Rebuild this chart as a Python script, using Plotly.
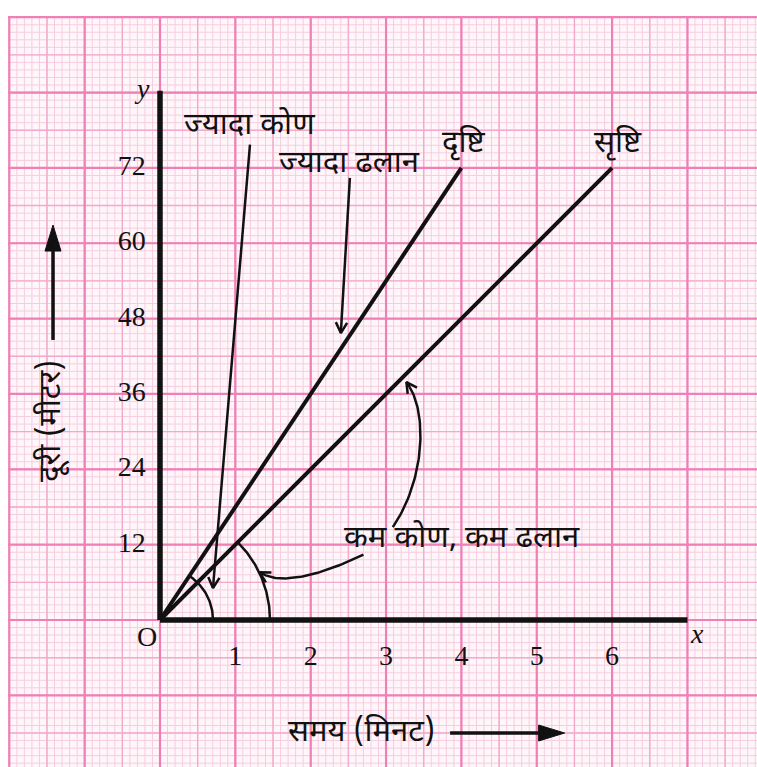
import numpy as np
import plotly.graph_objects as go

# Distance-time data for the two walkers (time in minutes, distance in metres)
drishti_t = [0, 4]
drishti_d = [0, 72]
srishti_t = [0, 6]
srishti_d = [0, 72]
x_ticks = [1, 2, 3, 4, 5, 6]
y_ticks = [12, 24, 36, 48, 60, 72]

W, H = 757, 767
ML, MT = 8, 16
X0, X1 = -2.0173, 7.923
Y0, Y1 = -23.41, 96.19
SX = (W - ML) / (X1 - X0)   # pixels per minute
SY = (H - MT) / (Y1 - Y0)   # pixels per metre

INK = "#111111"
SERIF = "Liberation Serif, Times New Roman, serif"
DEVA = "Noto Sans Devanagari, Lohit Devanagari, Mangal, Noto Sans, sans-serif"
DEVA_SIZE = 31

fig = go.Figure()


def line(xs, ys, width=3, color=INK):
    fig.add_trace(go.Scatter(x=list(xs), y=list(ys), mode="lines",
                             line=dict(color=color, width=width),
                             hoverinfo="skip", showlegend=False))


def v_head(tip, frm, size=12, spread=28, width=2.5):
    """Open V arrow head at `tip`, pointing away from `frm` (data coords)."""
    dx = (tip[0] - frm[0]) * SX
    dy = (tip[1] - frm[1]) * SY
    ang = np.arctan2(dy, dx)
    xs, ys = [], []
    for s in (-1, 1):
        a = ang + np.pi - s * np.radians(spread)
        xs.append(tip[0] + size * np.cos(a) / SX)
        ys.append(tip[1] + size * np.sin(a) / SY)
    line([xs[0], tip[0], xs[1]], [ys[0], tip[1], ys[1]], width=width)


def bezier(pts, n=60):
    pts = np.array(pts, dtype=float)
    t = np.linspace(0, 1, n)[:, None]
    if len(pts) == 3:
        c = (1 - t) ** 2 * pts[0] + 2 * (1 - t) * t * pts[1] + t ** 2 * pts[2]
    else:
        c = ((1 - t) ** 3 * pts[0] + 3 * (1 - t) ** 2 * t * pts[1]
             + 3 * (1 - t) * t ** 2 * pts[2] + t ** 3 * pts[3])
    return c[:, 0], c[:, 1]


def arc(r_px, a0, a1, n=60):
    th = np.linspace(a0, a1, n)
    return r_px * np.cos(th) / SX, r_px * np.sin(th) / SY


# ---- graph paper -------------------------------------------------------
def grid_path(step_x, step_y):
    parts = []
    k0, k1 = int(np.ceil(X0 / step_x)), int(np.floor(X1 / step_x))
    for k in range(k0, k1 + 1):
        x = k * step_x
        parts.append(f"M{x:.4f},{Y0} L{x:.4f},{Y1}")
    k0, k1 = int(np.ceil(Y0 / step_y)), int(np.floor(Y1 / step_y))
    for k in range(k0, k1 + 1):
        y = k * step_y
        parts.append(f"M{X0},{y:.4f} L{X1},{y:.4f}")
    return " ".join(parts)


shapes = [
    dict(type="path", path=grid_path(0.1, 1.2), xref="x", yref="y",
         line=dict(color="#f6cde0", width=1), layer="below"),
    dict(type="path", path=grid_path(0.5, 6), xref="x", yref="y",
         line=dict(color="#f3a9cb", width=1.4), layer="below"),
    dict(type="path", path=grid_path(1, 12), xref="x", yref="y",
         line=dict(color="#f07fb5", width=2.2), layer="below"),
]

# ---- axes ----------------------------------------------------------------
line([0, 7], [0, 0], width=5.5)
line([0, 0], [0, 84.3], width=5.5)

# ---- distance-time lines -----------------------------------------------
line(drishti_t, drishti_d, width=4)
line(srishti_t, srishti_d, width=4)

# ---- angle arcs ----------------------------------------------------------
ang_d = np.arctan2(drishti_d[1] * SY, drishti_t[1] * SX)
ang_s = np.arctan2(srishti_d[1] * SY, srishti_t[1] * SX)
ax_, ay_ = arc(53, 0, ang_d)
line(ax_, ay_, width=2.5)
ax_, ay_ = arc(110, 0, ang_s)
line(ax_, ay_, width=2.5)

# ---- pointer arrows ------------------------------------------------------
# "ज्यादा कोण" -> small arc
p0, p1 = (1.194, 75.7), (0.703, 5.1)
line([p0[0], p1[0]], [p0[1], p1[1]], width=2.5)
v_head(p1, p0)
# "ज्यादा ढलान" -> Drishti line
p0, p1 = (2.52, 70.4), (2.40, 45.7)
line([p0[0], p1[0]], [p0[1], p1[1]], width=2.5)
v_head(p1, p0)
# "कम कोण, कम ढलान" -> large arc
cx, cy = bezier([(2.70, 10.4), (1.70, 4.7), (1.32, 7.6)])
line(cx, cy, width=2.5)
v_head((cx[-1], cy[-1]), (cx[-4], cy[-4]))
# "कम कोण, कम ढलान" -> Srishti line
cx, cy = bezier([(3.09, 14.8), (3.52, 22.3), (3.56, 33.4), (3.27, 37.9)])
line(cx, cy, width=2.5)
v_head((cx[-1], cy[-1]), (cx[-4], cy[-4]))


# ---- axis-title arrows (filled heads) ------------------------------------
def filled_arrow(p0, p1, head_len=26, head_w=16, width=3.5):
    dx = (p1[0] - p0[0]) * SX
    dy = (p1[1] - p0[1]) * SY
    L = np.hypot(dx, dy)
    ux, uy = dx / L, dy / L
    bx = p1[0] - head_len * ux / SX
    by = p1[1] - head_len * uy / SY
    line([p0[0], bx], [p0[1], by], width=width)
    nx, ny = -uy, ux
    xs = [p1[0], bx + head_w / 2 * nx / SX, bx - head_w / 2 * nx / SX, p1[0]]
    ys = [p1[1], by + head_w / 2 * ny / SY, by - head_w / 2 * ny / SY, p1[1]]
    fig.add_trace(go.Scatter(x=xs, y=ys, mode="lines", fill="toself",
                             fillcolor=INK, line=dict(color=INK, width=1),
                             hoverinfo="skip", showlegend=False))


filled_arrow((3.85, -18.0), (5.37, -18.0))
filled_arrow((-1.42, 44.6), (-1.42, 62.9))

# ---- tick labels -----------------------------------------------------------
fig.add_trace(go.Scatter(x=x_ticks, y=[-6.0] * len(x_ticks), mode="text",
                         text=[str(v) for v in x_ticks],
                         textfont=dict(family=SERIF, size=28, color=INK),
                         hoverinfo="skip", showlegend=False))
fig.add_trace(go.Scatter(x=[-0.19] * len(y_ticks), y=y_ticks, mode="text",
                         text=[str(v) for v in y_ticks], textposition="middle left",
                         textfont=dict(family=SERIF, size=28, color=INK),
                         hoverinfo="skip", showlegend=False))

ann = []


def label(x, y, text, size=DEVA_SIZE, family=DEVA, angle=0, italic=False):
    t = f"<i>{text}</i>" if italic else text
    ann.append(dict(x=x, y=y, xref="x", yref="y", text=t, showarrow=False,
                    textangle=angle, xanchor="center", yanchor="middle",
                    font=dict(family=family, size=size, color=INK)))


label(-0.17, -2.7, "O", size=28, family=SERIF)
label(7.13, -2.1, "x", size=28, family=SERIF, italic=True)
label(-0.24, 84.7, "y", size=28, family=SERIF, italic=True)

label(1.194, 78.6, "ज्यादा कोण")
label(2.52, 72.6, "ज्यादा ढलान")
label(4.03, 75.8, "दृष्टि")
label(6.08, 75.8, "सृष्टि")
label(4.01, 12.9, "कम कोण, कम ढलान")
label(2.67, -18.0, "समय (मिनट)")
label(-1.42, 31.7, "दूरी (मीटर)", angle=-90)

fig.update_layout(
    width=W, height=H,
    margin=dict(l=ML, r=0, t=MT, b=0),
    paper_bgcolor="white",
    plot_bgcolor="#fff6fa",
    shapes=shapes,
    annotations=ann,
    showlegend=False,
    xaxis=dict(range=[X0, X1], visible=False, fixedrange=True),
    yaxis=dict(range=[Y0, Y1], visible=False, fixedrange=True),
)

fig.write_html("out.html")
